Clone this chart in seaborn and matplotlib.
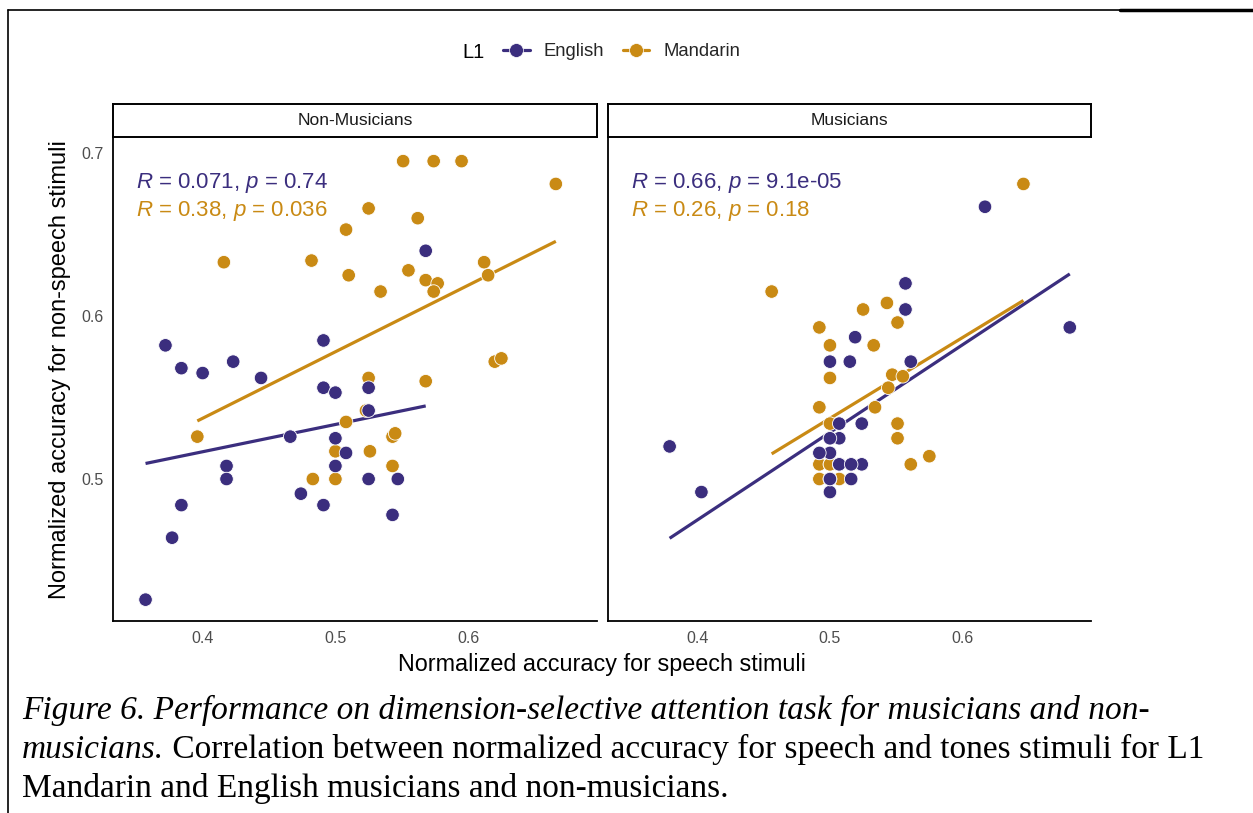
import numpy as np
import pandas as pd
import matplotlib
matplotlib.use("Agg")
import matplotlib.pyplot as plt
import seaborn as sns
from matplotlib.lines import Line2D

# ---------------- data ----------------
panels = ["Non-Musicians", "Musicians"]
languages = ["English", "Mandarin"]
palette = {"English": "#3B2E7E", "Mandarin": "#C98A14"}

nm_eng_x = [0.372, 0.384, 0.400, 0.423, 0.444, 0.491, 0.568, 0.491, 0.500, 0.466,
            0.500, 0.508, 0.500, 0.418, 0.418, 0.474, 0.491, 0.384, 0.377, 0.357,
            0.525, 0.525, 0.525, 0.547, 0.543]
nm_eng_y = [0.582, 0.568, 0.565, 0.572, 0.562, 0.585, 0.640, 0.556, 0.553, 0.526,
            0.525, 0.516, 0.508, 0.508, 0.500, 0.491, 0.484, 0.484, 0.464, 0.426,
            0.556, 0.542, 0.500, 0.500, 0.478]

nm_man_x = [0.416, 0.482, 0.508, 0.510, 0.551, 0.574, 0.595, 0.666, 0.525, 0.562,
            0.534, 0.555, 0.568, 0.577, 0.574, 0.612, 0.615, 0.620, 0.625, 0.525,
            0.568, 0.396, 0.508, 0.500, 0.483, 0.500, 0.523, 0.543, 0.545, 0.526,
            0.543]
nm_man_y = [0.633, 0.634, 0.653, 0.625, 0.695, 0.695, 0.695, 0.681, 0.666, 0.660,
            0.615, 0.628, 0.622, 0.620, 0.615, 0.633, 0.625, 0.572, 0.574, 0.562,
            0.560, 0.526, 0.535, 0.517, 0.500, 0.500, 0.542, 0.526, 0.528, 0.517,
            0.508]

# musicians: some participants share identical scores (overlapping points)
mu_eng_x = [0.557, 0.557, 0.519, 0.500, 0.515, 0.561, 0.507, 0.524, 0.500, 0.507,
            0.492, 0.500, 0.507, 0.516, 0.524, 0.500, 0.516, 0.500, 0.379, 0.403,
            0.617, 0.681, 0.500, 0.500, 0.507, 0.500, 0.500, 0.516, 0.492]
mu_eng_y = [0.620, 0.604, 0.587, 0.572, 0.572, 0.572, 0.534, 0.534, 0.525, 0.525,
            0.516, 0.516, 0.509, 0.509, 0.509, 0.500, 0.500, 0.492, 0.520, 0.492,
            0.667, 0.593, 0.500, 0.500, 0.509, 0.516, 0.525, 0.509, 0.516]

mu_man_x = [0.456, 0.492, 0.525, 0.543, 0.551, 0.500, 0.533, 0.500, 0.547, 0.544,
            0.555, 0.492, 0.534, 0.500, 0.551, 0.551, 0.492, 0.500, 0.561, 0.575,
            0.492, 0.507, 0.646, 0.500, 0.500, 0.492, 0.500, 0.507]
mu_man_y = [0.615, 0.593, 0.604, 0.608, 0.596, 0.582, 0.582, 0.562, 0.564, 0.556,
            0.563, 0.544, 0.544, 0.534, 0.534, 0.525, 0.509, 0.509, 0.509, 0.514,
            0.500, 0.500, 0.681, 0.500, 0.516, 0.500, 0.509, 0.509]

r_labels = {
    ("Non-Musicians", "English"): ("0.071", "0.74"),
    ("Non-Musicians", "Mandarin"): ("0.38", "0.036"),
    ("Musicians", "English"): ("0.66", "9.1e-05"),
    ("Musicians", "Mandarin"): ("0.26", "0.18"),
}

x_ticks = [0.4, 0.5, 0.6]
y_ticks = [0.5, 0.6, 0.7]
x_title = "Normalized accuracy for speech stimuli"
y_title = "Normalized accuracy for non-speech stimuli"
legend_title = "L1"
caption_1 = "Figure 6. Performance on dimension-selective attention task for musicians and non-"
caption_2a = "musicians."
caption_2b = " Correlation between normalized accuracy for speech and tones stimuli for L1"
caption_3 = "Mandarin and English musicians and non-musicians."

frames = []
for panel, lang, xs, ys in [("Non-Musicians", "Mandarin", nm_man_x, nm_man_y),
                            ("Non-Musicians", "English", nm_eng_x, nm_eng_y),
                            ("Musicians", "Mandarin", mu_man_x, mu_man_y),
                            ("Musicians", "English", mu_eng_x, mu_eng_y)]:
    frames.append(pd.DataFrame({"speech": xs, "nonspeech": ys, "group": panel, "L1": lang}))
df = pd.concat(frames, ignore_index=True)

# ---------------- figure ----------------
sns.set_theme(style="white")
plt.rcParams["font.family"] = ["Liberation Sans", "DejaVu Sans"]
plt.rcParams["mathtext.fontset"] = "custom"
plt.rcParams["mathtext.it"] = "Liberation Sans:italic"
plt.rcParams["mathtext.rm"] = "Liberation Sans"

W, H = 1253, 813
fig = plt.figure(figsize=(W / 100, H / 100), dpi=100)
fig.patch.set_facecolor("white")

def fx(px):
    return px / W

def fy(py):
    return 1 - py / H

ax_pos = {"Non-Musicians": (113, 597), "Musicians": (608, 1091)}
top, bottom = 137, 621
xlim = (0.3325, 0.697)
ylim = (0.4129, 0.7098)

for panel in panels:
    x0, x1 = ax_pos[panel]
    ax = fig.add_axes([fx(x0), fy(bottom), fx(x1 - x0), (bottom - top) / H])
    sub = df[df["group"] == panel]
    for lang in languages:
        d = sub[sub["L1"] == lang]
        sns.regplot(data=d, x="speech", y="nonspeech", ax=ax, scatter=False, ci=None,
                    color=palette[lang], line_kws={"lw": 2.3, "solid_capstyle": "butt"})
    sns.scatterplot(data=sub, x="speech", y="nonspeech", hue="L1", hue_order=languages,
                    palette=palette, s=95, edgecolor="white", linewidth=0.6, ax=ax,
                    legend=False, zorder=3)
    ax.set_xlim(*xlim)
    ax.set_ylim(*ylim)
    ax.set_xticks(x_ticks)
    ax.set_xticklabels([f"{t:.1f}" for t in x_ticks])
    ax.set_yticks(y_ticks)
    if panel == "Non-Musicians":
        ax.set_yticklabels([f"{t:.1f}" for t in y_ticks])
    else:
        ax.set_yticklabels([])
        ax.spines["left"].set_visible(False)
    ax.set_xlabel("")
    ax.set_ylabel("")
    sns.despine(ax=ax)
    for s in ["left", "bottom"]:
        ax.spines[s].set_color("black")
        ax.spines[s].set_linewidth(1.3)
    ax.tick_params(axis="both", direction="out", length=4, width=1.0, color="#333333",
                   labelsize=11.5, labelcolor="#4D4D4D", pad=3)
    if panel == "Musicians":
        ax.tick_params(axis="y", length=0)
    tx = 0.047
    for i, lang in enumerate(languages):
        r, p = r_labels[(panel, lang)]
        ax.text(tx, 0.905 - i * 0.058, f"$R$ = {r}, $p$ = {p}", transform=ax.transAxes,
                color=palette[lang], fontsize=16, va="center", ha="left")

    # strip
    sax = fig.add_axes([fx(x0), fy(top), fx(x1 - x0), 33 / H])
    sax.set_facecolor("white")
    sax.set_xticks([])
    sax.set_yticks([])
    for s in sax.spines.values():
        s.set_visible(True)
        s.set_color("black")
        s.set_linewidth(1.4)
    sax.text(0.5, 0.5, panel, ha="center", va="center", fontsize=12.5, color="#1A1A1A",
             transform=sax.transAxes)

# axis titles
fig.text(fx(602), fy(664), x_title, ha="center", va="center", fontsize=16.8, color="black")
fig.text(fx(60), fy(370), y_title, ha="center", va="center", rotation=90, fontsize=17,
         color="black")

# legend
fig.text(fx(462), fy(52), legend_title, ha="left", va="center", fontsize=14.5, color="black")
handles = [Line2D([0], [0], color=palette[l], lw=2.3, marker="o", markersize=10,
                  markeredgecolor="white", markeredgewidth=0.5) for l in languages]
fig.legend(handles, languages, loc="center left", bbox_to_anchor=(fx(503), fy(52)),
           ncol=2, frameon=False, fontsize=13.3, handlelength=1.45, handletextpad=0.75,
           columnspacing=1.0, borderpad=0, borderaxespad=0)

# caption
cap_kw = dict(fontsize=24, color="black", family=["Liberation Serif", "DejaVu Serif"],
              va="baseline", ha="left")
fig.text(fx(22), fy(719), caption_1, style="italic", **cap_kw)
t2 = fig.text(fx(22), fy(758), caption_2a, style="italic", **cap_kw)
fig.canvas.draw()
bb = t2.get_window_extent(renderer=fig.canvas.get_renderer())
fig.text(bb.x1 / W, fy(758), caption_2b, **cap_kw)
fig.text(fx(22), fy(797), caption_3, **cap_kw)

# document border lines
fig.add_artist(Line2D([fx(8), fx(1120)], [fy(10), fy(10)], color="black", lw=1.2))
fig.add_artist(Line2D([fx(1120), fx(1253)], [fy(10), fy(10)], color="black", lw=2.5))
fig.add_artist(Line2D([fx(8), fx(8)], [fy(10), fy(813)], color="black", lw=1.2))

fig.savefig("out.png", dpi=100, facecolor="white")
